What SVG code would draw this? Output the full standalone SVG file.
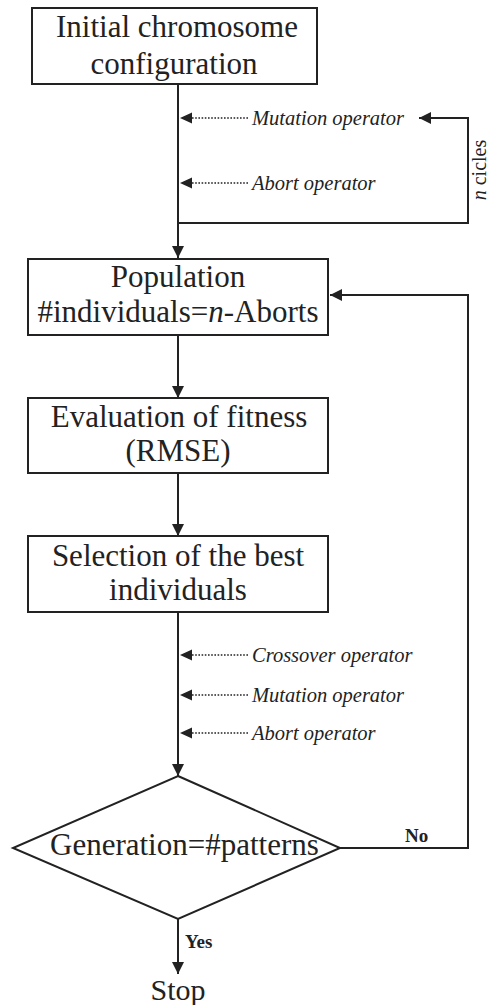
<svg xmlns="http://www.w3.org/2000/svg" width="488" height="1005" viewBox="0 0 488 1005">
<defs>
<style>
.box{fill:#fff;stroke:#222;stroke-width:2}
.t{font-family:'Liberation Serif','Times New Roman',Times,'DejaVu Serif',serif;font-size:31px;fill:#222;text-anchor:middle}
.op{font-family:'Liberation Serif','Times New Roman',Times,'DejaVu Serif',serif;font-size:20.5px;font-style:italic;fill:#222}
.lb{font-family:'Liberation Serif','Times New Roman',Times,'DejaVu Serif',serif;font-size:19px;font-weight:bold;fill:#222}
.ln{fill:none;stroke:#222;stroke-width:2}
.dot{fill:none;stroke:#222;stroke-width:1.6;stroke-dasharray:1.6,1.6}
</style>
<marker id="ah" markerUnits="userSpaceOnUse" markerWidth="12" markerHeight="12" refX="12" refY="6" orient="auto">
<path d="M0,0 L12,6 L0,12 z" fill="#222"/>
</marker>
</defs>
<rect width="488" height="1005" fill="#fff"/>
<g id="connectors">
<line class="ln" x1="178" y1="84" x2="178" y2="258" marker-end="url(#ah)"/>
<polyline class="ln" points="178,223 468,223 468,118 419,118" marker-end="url(#ah)"/>
<line class="ln" x1="178" y1="336" x2="178" y2="398" marker-end="url(#ah)"/>
<line class="ln" x1="178" y1="474" x2="178" y2="536" marker-end="url(#ah)"/>
<line class="ln" x1="178" y1="612" x2="178" y2="776" marker-end="url(#ah)"/>
<line class="ln" x1="178" y1="919" x2="178" y2="974" marker-end="url(#ah)"/>
<polyline class="ln" points="340,848 468,848 468,295 330,295" marker-end="url(#ah)"/>
<g>
<line class="dot" x1="248" y1="118" x2="190" y2="118"/><path d="M180,118 L192,112.5 L192,123.5 z" fill="#222"/>
<line class="dot" x1="248" y1="183" x2="190" y2="183"/><path d="M180,183 L192,177.5 L192,188.5 z" fill="#222"/>
<line class="dot" x1="248" y1="655" x2="190" y2="655"/><path d="M180,655 L192,649.5 L192,660.5 z" fill="#222"/>
<line class="dot" x1="248" y1="695" x2="190" y2="695"/><path d="M180,695 L192,689.5 L192,700.5 z" fill="#222"/>
<line class="dot" x1="248" y1="733" x2="190" y2="733"/><path d="M180,733 L192,727.5 L192,738.5 z" fill="#222"/>
</g>
<text class="op" x="252" y="125">Mutation operator</text>
<text class="op" x="252" y="190">Abort operator</text>
<text class="op" x="252" y="662">Crossover operator</text>
<text class="op" x="252" y="702">Mutation operator</text>
<text class="op" x="252" y="740">Abort operator</text>
<text class="op" transform="translate(486,170) rotate(-90)" text-anchor="middle" style="font-style:normal;font-size:20px"><tspan font-style="italic">n</tspan> cicles</text>
<text class="lb" x="405" y="842">No</text>
<text class="lb" x="185" y="948">Yes</text>
</g>
<g id="n1">
<rect class="box" x="32" y="8" width="285" height="76"/>
<text class="t" x="177" y="37">Initial chromosome</text>
<text class="t" x="174" y="74">configuration</text>
</g>
<g id="n2">
<rect class="box" x="28" y="259" width="300" height="76"/>
<text class="t" x="178" y="287">Population</text>
<text class="t" x="178" y="322">#individuals=<tspan font-style="italic">n</tspan>-Aborts</text>
</g>
<g id="n3">
<rect class="box" x="28" y="398" width="300" height="75"/>
<text class="t" x="179" y="427">Evaluation of fitness</text>
<text class="t" x="178" y="461">(RMSE)</text>
</g>
<g id="n4">
<rect class="box" x="28" y="536" width="300" height="76"/>
<text class="t" x="178" y="566">Selection of the best</text>
<text class="t" x="178" y="600">individuals</text>
</g>
<g id="n5">
<polygon class="box" points="178,776 340,848 178,919 13,848"/>
<text class="t" x="50" y="855" style="text-anchor:start">Generation=#patterns</text>
</g>
<g id="n6">
<text class="t" x="178" y="1000" style="font-size:30px">Stop</text>
</g>
</svg>
